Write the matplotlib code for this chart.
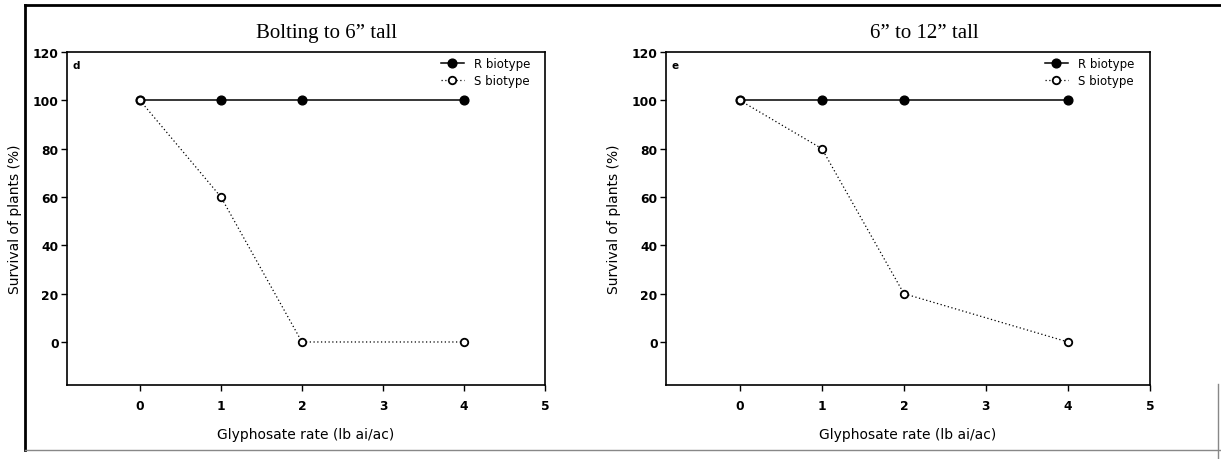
import matplotlib.pyplot as plt
from matplotlib.lines import Line2D

rates = [0, 1, 2, 4]
r_left = [100, 100, 100, 100]
s_left = [100, 60, 0, 0]
r_right = [100, 100, 100, 100]
s_right = [100, 80, 20, 0]

titles = ["Bolting to 6\u201d tall", "6\u201d to 12\u201d tall"]
letters = ["d", "e"]
xticks = [0, 1, 2, 3, 4, 5]
yticks = [0, 20, 40, 60, 80, 100, 120]

plt.rcParams['font.family'] = ['DejaVu Sans']

W, H = 1221, 460
fig = plt.figure(figsize=(W / 100, H / 100), dpi=100)


def px(x, y):
    return x / W, 1 - y / H


# outer frame of the scanned figure
for (x0, y0), (x1, y1), lw, c in [
        ((25, 6), (1221, 6), 2.0, "black"),
        ((25, 6), (25, 451), 2.0, "black"),
        ((25, 451), (1221, 451), 1.0, "#888888"),
        ((1218, 385), (1218, 460), 1.0, "#888888")]:
    a, b = px(x0, y0)
    c2, d = px(x1, y1)
    fig.add_artist(Line2D([a, c2], [b, d], transform=fig.transFigure,
                          color=c, linewidth=lw))

boxes = [(67, 545), (666, 1150)]
title_x = [327, 924]
legend_right = [530, 1134]
series = [(r_left, s_left), (r_right, s_right)]

for i, (r, s) in enumerate(series):
    left, right = boxes[i]
    ax = fig.add_axes([left / W, 1 - 386 / H, (right - left) / W, 333 / H])
    ax.plot(rates, r, "-o", color="black", markerfacecolor="black",
            markersize=6.3, linewidth=1.1, label="R biotype")
    ax.plot(rates, s, marker="o", linestyle=(0, (1, 2)), color="black",
            markerfacecolor="white", markeredgewidth=1.3, markersize=5.4,
            linewidth=0.9, label="S biotype")
    ax.set_xlim(-0.9, 5)
    ax.set_ylim(-17.8, 120)
    ax.set_xticks(xticks)
    ax.set_yticks(yticks)
    ax.tick_params(direction="out", length=4, width=1, labelsize=8.8)
    ax.tick_params(axis="x", pad=6)
    ax.tick_params(axis="y", pad=2)
    for lab in ax.get_xticklabels() + ax.get_yticklabels():
        lab.set_fontweight("bold")
    for sp in ax.spines.values():
        sp.set_linewidth(1.2)
    ax.set_xlabel("Glyphosate rate (lb ai/ac)", fontsize=10, labelpad=11)
    ax.set_ylabel("Survival of plants (%)", fontsize=10, labelpad=8)
    ax.text((title_x[i] - left) / (right - left), 1.06, titles[i],
            transform=ax.transAxes, fontsize=15, family="Liberation Serif",
            ha="center", va="center")
    ax.text(0.011, 0.976, letters[i], transform=ax.transAxes, fontsize=7.5,
            fontweight="bold", va="top", ha="left")
    ax.legend(loc="upper right", frameon=False, fontsize=8.5,
              handlelength=2.0, handletextpad=0.8, borderpad=0,
              borderaxespad=0, labelspacing=0.35,
              bbox_to_anchor=((legend_right[i] - left) / (right - left), 0.985))

plt.savefig("out.png", dpi=100)
